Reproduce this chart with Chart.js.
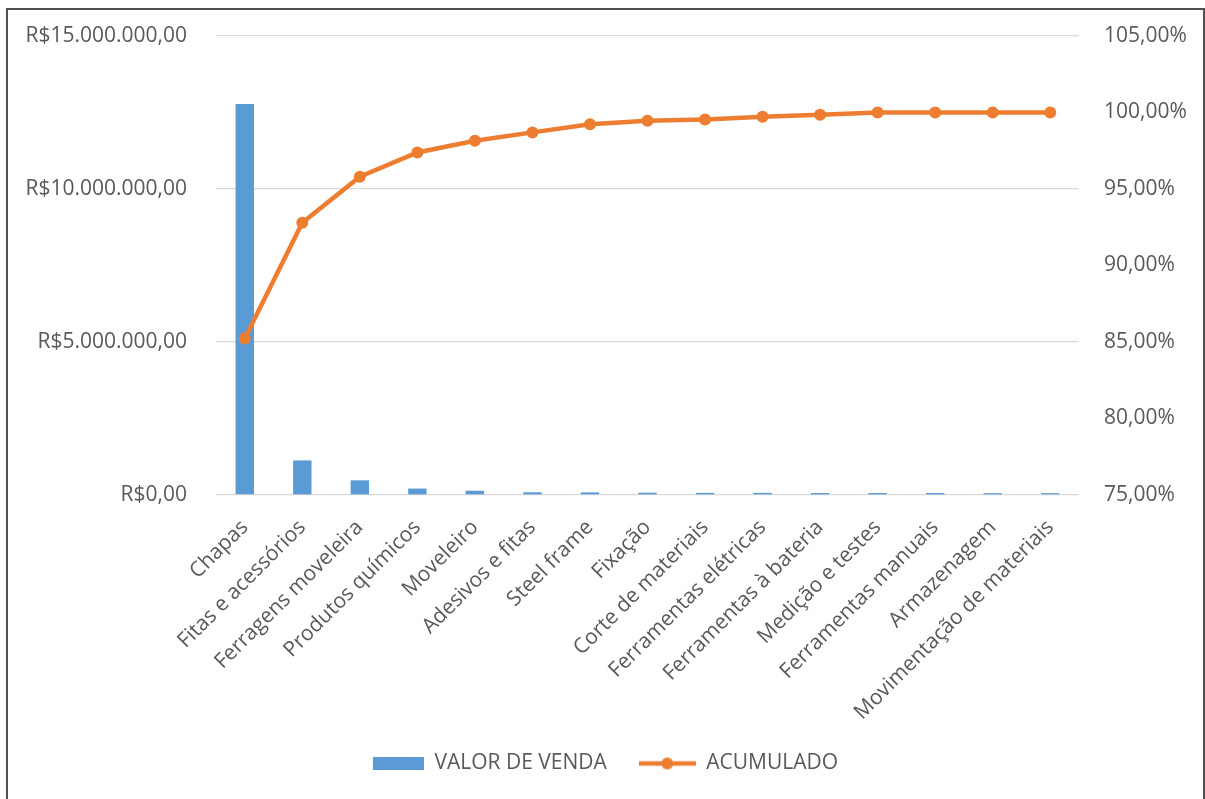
<!DOCTYPE html>
<html>
<head>
<meta charset="utf-8">
<script src="https://cdn.jsdelivr.net/npm/chart.js@4.4.1/dist/chart.umd.min.js"></script>
<style>
  html, body { margin: 0; padding: 0; background: #fff; }
  #wrap { position: relative; width: 1205px; height: 799px; overflow: hidden; }
  #frame { position: absolute; left: 6px; top: 8px; width: 1195px; height: 800px;
           border: 2px solid #505050; pointer-events: none; }
  canvas { position: absolute; left: 0; top: 0; }
</style>
</head>
<body>
<div id="wrap">
  <canvas id="pareto" width="1205" height="799"></canvas>
  <div id="frame"></div>
</div>
<script>
// categorias e valores
const categorias = ['Chapas', 'Fitas e acessórios', 'Ferragens moveleira', 'Produtos químicos',
  'Moveleiro', 'Adesivos e fitas', 'Steel frame', 'Fixação', 'Corte de materiais',
  'Ferramentas elétricas', 'Ferramentas à bateria', 'Medição e testes',
  'Ferramentas manuais', 'Armazenagem', 'Movimentação de materiais'];
const valorVenda = [12780000, 1130000, 480000, 210000, 140000, 90000, 85000, 75000,
  70000, 70000, 65000, 65000, 65000, 60000, 60000];
const acumulado = [85.23, 92.79, 95.80, 97.39, 98.15, 98.70, 99.23, 99.46,
  99.55, 99.72, 99.85, 100, 100, 100, 100];
const ticksValor = [0, 5000000, 10000000, 15000000];
const ticksPct = [75, 80, 85, 90, 95, 100, 105];

const AZUL = '#5B9BD5';
const LARANJA = '#ED7D31';
const CINZA = '#595959';
const fonte = { family: '"Open Sans", sans-serif', size: 21 };

function formatReal(v) {
  const partes = Math.round(v).toString().replace(/\B(?=(\d{3})+(?!\d))/g, '.');
  return 'R$' + partes + ',00';
}

// ícones da legenda
function iconeBarra() {
  const c = document.createElement('canvas');
  c.width = 57; c.height = 13;
  const g = c.getContext('2d');
  g.fillStyle = AZUL;
  g.fillRect(6, 0, 51, 13);
  return c;
}
function iconeLinha() {
  const c = document.createElement('canvas');
  c.width = 57; c.height = 14;
  const g = c.getContext('2d');
  g.strokeStyle = LARANJA;
  g.lineWidth = 4.5;
  g.beginPath(); g.moveTo(0, 7); g.lineTo(57, 7); g.stroke();
  g.fillStyle = LARANJA;
  g.beginPath(); g.arc(28.5, 7, 6, 0, Math.PI * 2); g.fill();
  return c;
}
const icones = [iconeBarra(), iconeLinha()];

new Chart(document.getElementById('pareto'), {
  data: {
    labels: categorias,
    datasets: [
      {
        type: 'bar',
        label: 'VALOR DE VENDA',
        data: valorVenda,
        backgroundColor: AZUL,
        yAxisID: 'y',
        barPercentage: 0.32,
        categoryPercentage: 1,
        order: 1
      },
      {
        type: 'line',
        label: 'ACUMULADO',
        data: acumulado,
        borderColor: LARANJA,
        backgroundColor: LARANJA,
        borderWidth: 4.5,
        pointRadius: 6,
        pointBorderWidth: 0,
        tension: 0,
        yAxisID: 'y1',
        order: 0
      }
    ]
  },
  options: {
    responsive: false,
    animation: false,
    layout: { padding: { top: 36, left: 0, right: 0, bottom: 15 } },
    scales: {
      x: {
        grid: { display: false },
        border: { display: false },
        ticks: { color: CINZA, font: fonte, minRotation: 45, maxRotation: 45, padding: 12 },
        afterFit: s => { s.height = 226; }
      },
      y: {
        position: 'left',
        min: 0, max: 15000000,
        afterBuildTicks: s => { s.ticks = ticksValor.map(v => ({ value: v })); },
        grid: { color: '#D9D9D9', lineWidth: 1.3, tickLength: 25, tickColor: 'rgba(0,0,0,0)' },
        border: { display: false },
        ticks: { color: CINZA, font: fonte, padding: 4, callback: v => formatReal(v) },
        afterFit: s => { s.width = 216; }
      },
      y1: {
        position: 'right',
        min: 75, max: 105,
        afterBuildTicks: s => { s.ticks = ticksPct.map(v => ({ value: v })); },
        grid: { display: false, drawOnChartArea: false, tickLength: 21, tickColor: 'rgba(0,0,0,0)' },
        border: { display: false },
        ticks: { color: CINZA, font: fonte, padding: 4,
                 callback: v => v.toFixed(2).replace('.', ',') + '%' },
        afterFit: s => { s.width = 1205 - 1079; }
      }
    },
    plugins: {
      tooltip: { enabled: false },
      legend: {
        position: 'bottom',
        labels: {
          color: CINZA,
          font: fonte,
          usePointStyle: true,
          pointStyleWidth: 57,
          boxHeight: 14,
          padding: 32,
          generateLabels: chart => {
            const itens = Chart.defaults.plugins.legend.labels.generateLabels(chart);
            itens.sort((a, b) => a.datasetIndex - b.datasetIndex);
            itens.forEach(it => { it.pointStyle = icones[it.datasetIndex]; });
            return itens;
          }
        }
      }
    }
  }
});
</script>
</body>
</html>
